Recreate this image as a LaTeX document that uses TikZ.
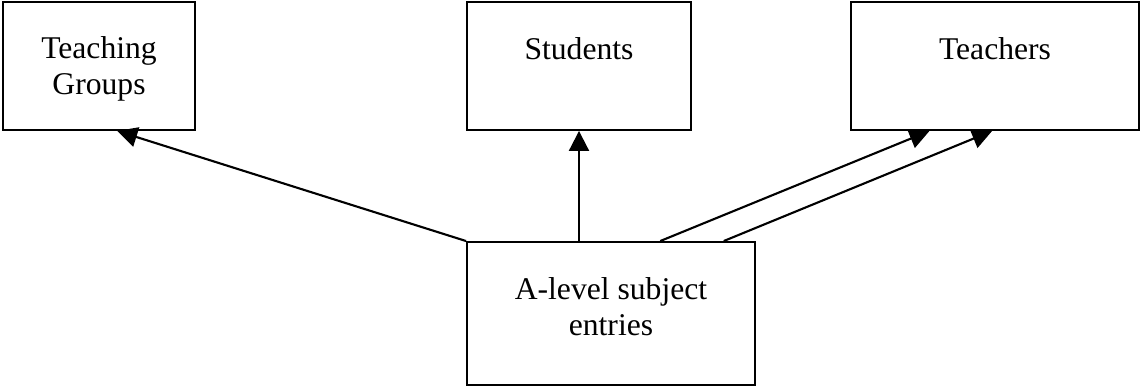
\documentclass[tikz,border=0pt]{standalone}
\usepackage{fontspec}
\setmainfont{Liberation Serif}
\usetikzlibrary{positioning}
\usetikzlibrary{calc}
\usetikzlibrary{arrows.meta}

\begin{document}
\begin{tikzpicture}[
    entity/.style = {draw, line width = 1.1pt, minimum height = 2.56cm, inner sep = 0pt},
    caption/.style = {align = center, anchor = base, inner sep = 0pt, font = \fontsize{18}{20.5}\selectfont},
    link/.style = {line width = 1.2pt, -{Triangle[length = 0.4cm, width = 0.4cm]}}
  ]
  \useasboundingbox (0, 0) rectangle (22.82, 7.74);
  \node[entity, minimum width = 3.84cm] (groups) at (1.98, 6.42) {};
  \node[entity, minimum width = 4.48cm] (students) at (11.58, 6.42) {};
  \node[entity, minimum width = 5.76cm] (teachers) at (19.90, 6.42) {};
  \node[entity, minimum width = 5.76cm, minimum height = 2.86cm] (entries) at (12.22, 1.47) {};
  \node[caption] (groupstext) at ([yshift = -1.86cm] groups.north) {Teaching\\Groups};
  \node[caption] (studentstext) at ([yshift = -1.16cm] students.north) {Students};
  \node[caption] (teacherstext) at ([yshift = -1.16cm] teachers.north) {Teachers};
  \node[caption] (entriestext) at ([yshift = -1.88cm] entries.north) {A-level subject\\entries};
  \draw[link] (entries.north west) -- ($(groups.south west)!0.594!(groups.south east)$);
  \draw[link] (students.south |- entries.north) -- (students.south);
  \draw[link] ($(entries.north west)!0.670!(entries.north east)$) -- ($(teachers.south west)!0.274!(teachers.south east)$);
  \draw[link] ($(entries.north west)!0.889!(entries.north east)$) -- ($(teachers.south west)!0.490!(teachers.south east)$);
\end{tikzpicture}
\end{document}
